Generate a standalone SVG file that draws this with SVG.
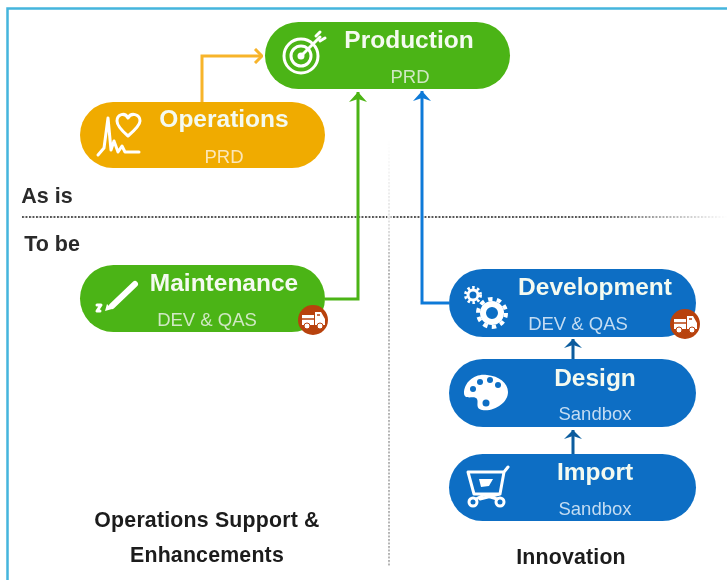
<svg xmlns="http://www.w3.org/2000/svg" width="727" height="580" viewBox="0 0 727 580">
<style>
text{font-family:"Liberation Sans",Arial,sans-serif;text-anchor:middle}
.t{font-size:24.500px;font-weight:700;fill:#f4faf0}
.s{font-size:18.500px;fill:#cfe8c4}
.sw{font-size:18.500px;fill:#fbe6b8}
.b{font-size:18.500px;fill:#c4dcf2}
.l{font-size:21.500px;font-weight:700;fill:#2a2a2a}
.c{font-size:21.300px;fill:#1a1a1a;font-weight:700;letter-spacing:.2px}
.ic{fill:none;stroke:#fff;stroke-width:3;stroke-linecap:round;stroke-linejoin:round}
.if{fill:#fff}
.g{fill:#4cb412}.o{fill:#f0ab00}.bl{fill:#0a6ec4}
.tk{fill:#b8420f}
</style>
<defs>
<filter id="soft" x="0" y="0" width="727" height="580" filterUnits="userSpaceOnUse"><feGaussianBlur stdDeviation=".45"/></filter>
<pattern id="dh" width="3.500" height="2" patternUnits="userSpaceOnUse" x="22" y="216"><rect width="2" height="2" fill="#555"/></pattern>
<pattern id="dv" width="2" height="3.500" patternUnits="userSpaceOnUse" x="388" y="140"><rect width="2" height="2" fill="#b5b5b5"/></pattern>
<linearGradient id="fv" x1="0" x2="0" y1="0" y2="1"><stop offset="0" stop-color="#fff"/><stop offset=".2" stop-color="#fff" stop-opacity=".6"/><stop offset=".3" stop-color="#fff" stop-opacity="0"/></linearGradient>
<linearGradient id="fr" x1="0" x2="1" y1="0" y2="0"><stop offset=".6" stop-color="#fff" stop-opacity="0"/><stop offset="1" stop-color="#fff"/></linearGradient>
<marker id="ao" markerWidth="10" markerHeight="16" refX="9" refY="8" orient="auto" markerUnits="userSpaceOnUse"><path d="M2 1L9 8L2 15" fill="none" stroke="#f7b42c" stroke-width="3"/></marker>
<marker id="ag" markerWidth="18" markerHeight="12" refX="9" refY="1" orient="0" markerUnits="userSpaceOnUse"><path d="M0 11L9 1L18 11L9 8Z" fill="#4cb412"/></marker>
<marker id="ab" markerWidth="20" markerHeight="12" refX="9" refY="1" orient="0" markerUnits="userSpaceOnUse"><path d="M0 11L9 1L18 11L9 8Z" fill="#0f7ad8"/></marker>
<marker id="ad" markerWidth="20" markerHeight="12" refX="9" refY="1" orient="0" markerUnits="userSpaceOnUse"><path d="M0 10L9 1L18 10L9 7Z" fill="#0a5c9e"/></marker>
<g id="truck"><circle r="15" class="tk"/><path class="if" d="M-11-5H1V5H-11ZM2-8H8L12-1V5H2Z"/><path d="M-11-1H1M4-5H7" stroke="#b8420f" stroke-width="1.500"/><circle cx="-6" cy="6" r="3" class="if" stroke="#b8420f"/><circle cx="7" cy="6" r="3" class="if" stroke="#b8420f"/></g>
</defs>
<g filter="url(#soft)">
<path d="M7.500 580V8.500H727" fill="none" stroke="#45b5dd" stroke-width="2.500"/>
<rect x="22" y="216" width="705" height="2" fill="url(#dh)"/>
<rect x="400" y="215" width="327" height="4" fill="url(#fr)"/>
<rect x="388" y="140" width="2" height="426" fill="url(#dv)"/>
<rect x="387" y="140" width="4" height="426" fill="url(#fv)"/>
<g id="connectors" fill="none" stroke-width="3">
<path d="M202 102V56H262" stroke="#f7b42c" marker-end="url(#ao)"/>
<path d="M325 299H358V92" stroke="#4cb412" marker-end="url(#ag)"/>
<path d="M449 303H422V91" stroke="#0f7ad8" marker-end="url(#ab)"/>
<path d="M573 359V339" stroke="#0a5c9e" marker-end="url(#ad)"/>
<path d="M573 454V430" stroke="#0a5c9e" marker-end="url(#ad)"/>
</g>
<g id="production"><rect class="g" x="265" y="22" width="245" height="67" rx="33.500"/>
<circle class="ic" cx="301" cy="56" r="17" stroke-width="3.500"/><circle class="ic" cx="301" cy="56" r="10" stroke-width="3"/><circle class="if" cx="301" cy="56" r="3.500"/><path class="ic" d="M301 56L320 37M316 36L320 32M320 41L325 38"/>
<text class="t" x="409" y="48">Production</text><text class="s" x="410" y="83">PRD</text></g>
<g id="operations"><rect class="o" x="80" y="102" width="245" height="66" rx="33"/>
<path class="ic" stroke-width="2" d="M98 155L104 148L108 118L111 150L114 141L118 152L122 146L125 152H139"/>
<path class="ic" stroke-width="2.500" d="M128 136C121 130 117 125 117 121C117 114 125 112 128 118C131 112 140 114 140 121C140 125 135 130 128 136Z"/>
<text class="t" x="224" y="127">Operations</text><text class="sw" x="224" y="163">PRD</text></g>
<g id="maintenance"><rect class="g" x="80" y="265" width="245" height="67" rx="33.500"/>
<path d="M112 306L135 284" stroke="#fff" stroke-width="6" fill="none" stroke-linecap="round"/><path class="if" d="M105 311L107 304L112 309Z"/>
<path class="ic" stroke-width="1.500" d="M97 305H101L97 311H100"/>
<text class="t" x="224" y="291">Maintenance</text><text class="s" x="207" y="326">DEV &amp; QAS</text>
<use href="#truck" x="313" y="320"/></g>
<g id="development"><rect class="bl" x="449" y="269" width="247" height="68" rx="34"/>
<g fill="none" stroke="#fff"><circle cx="473" cy="295" r="5" stroke-width="3"/><circle cx="473" cy="295" r="7.500" stroke-width="3" stroke-dasharray="2.500 2.400"/><circle cx="492" cy="313" r="9" stroke-width="6"/><circle cx="492" cy="313" r="14" stroke-width="4" stroke-dasharray="4.500 4.300"/></g>
<text class="t" x="595" y="295">Development</text><text class="b" x="578" y="330">DEV &amp; QAS</text>
<use href="#truck" x="685" y="324"/></g>
<g id="design"><rect class="bl" x="449" y="359" width="247" height="68" rx="34"/>
<path class="if" d="M487 375C475 373 464 382 464 393C464 400 472 396 476 398C480 401 474 408 482 410C494 412 508 403 508 392C508 383 499 376 487 375Z"/>
<g fill="#0a6ec4"><circle cx="473" cy="389" r="3"/><circle cx="480" cy="382" r="3"/><circle cx="490" cy="380" r="3"/><circle cx="498" cy="385" r="3"/><circle cx="486" cy="403" r="3.500"/></g>
<text class="t" x="595" y="386">Design</text><text class="b" x="595" y="420">Sandbox</text></g>
<g id="import"><rect class="bl" x="449" y="454" width="247" height="67" rx="33.500"/>
<path class="ic" stroke-width="2" d="M468 472H504L500 494H474L468 472M508 467L504 472M500 494L480 499"/>
<path class="if" d="M479 479H493L489 486L481 487Z"/>
<circle class="ic" stroke-width="2" cx="473" cy="502" r="4"/><circle class="ic" stroke-width="2" cx="500" cy="502" r="4"/><path class="ic" stroke-width="2" d="M476 499L484 495L497 499"/>
<text class="t" x="595" y="480">Import</text><text class="b" x="595" y="515">Sandbox</text></g>
<g id="labels">
<text class="l" x="47" y="203">As is</text><text class="l" x="52" y="251">To be</text>
<text class="c" x="207" y="527">Operations Support &amp;</text><text class="c" x="207" y="562">Enhancements</text>
<text class="c" x="571" y="564">Innovation</text></g>
</g>
</svg>
